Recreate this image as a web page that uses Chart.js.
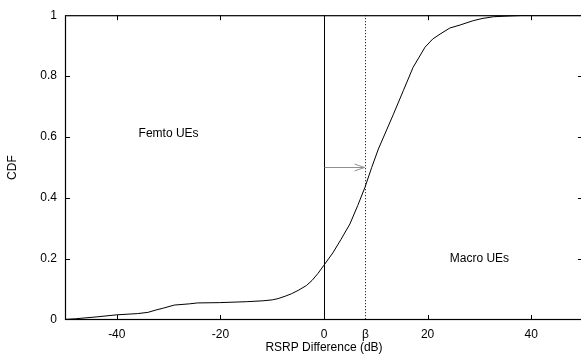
<!DOCTYPE html>
<html><head><meta charset="utf-8">
<script src="https://cdn.jsdelivr.net/npm/chart.js@4/dist/chart.umd.min.js"></script>
<style>
html,body{margin:0;padding:0;background:#fff;overflow:hidden;}
#wrap{width:581px;height:358px;overflow:hidden;position:relative;}
canvas{display:block;}
</style></head>
<body><div id="wrap"><canvas id="c" width="583" height="358"></canvas></div>
<script>
// RSRP difference (dB) and CDF values
const rsrpDiff = [-50, -48, -44, -40, -36, -34, -32.4, -31, -28.9, -26, -24.4, -20.2, -15, -11.8, -10, -8.9, -7.5, -6.3, -5, -3.4, -2.3, -1.2, 0, 1.7, 3.3, 5, 6.5, 7.9, 9.2, 10.5, 12, 13.4, 15.3, 17.2, 19.5, 21, 22.4, 24.3, 26.3, 28.8, 30.5, 32.7, 36.5, 40, 50];
const cdfValues = [0.002, 0.004, 0.010, 0.017, 0.021, 0.025, 0.033, 0.039, 0.049, 0.053, 0.056, 0.057, 0.060, 0.063, 0.066, 0.070, 0.078, 0.086, 0.097, 0.113, 0.130, 0.152, 0.180, 0.220, 0.265, 0.315, 0.375, 0.435, 0.5, 0.561, 0.620, 0.675, 0.752, 0.829, 0.895, 0.922, 0.938, 0.958, 0.968, 0.982, 0.989, 0.995, 0.998, 1.0, 1.0];
const xTickValues = [-40, -20, 0, 8, 20, 40];
const xTickLabels = ['-40', '-20', '0', 'β', '20', '40'];
const yTickValues = [0, 0.2, 0.4, 0.6, 0.8, 1];
const betaValue = 8;
const arrowLevel = 0.5;
const annotations = [
  {text: 'Femto UEs', x: -30, y: 0.61},
  {text: 'Macro UEs', x: 30, y: 0.2}
];

const FONT = '"Liberation Sans", Arial, sans-serif';

const overlay = {
  id: 'overlay',
  afterDatasetsDraw(chart) {
    const {ctx, chartArea: a, scales: {x, y}} = chart;
    ctx.save();
    // inward ticks
    ctx.strokeStyle = '#000'; ctx.lineWidth = 1; ctx.setLineDash([]);
    const tl = 5;
    xTickValues.forEach(v => {
      if (v === 0 || v === betaValue) return;
      const px = Math.round(x.getPixelForValue(v)) + 0.5;
      ctx.beginPath();
      ctx.moveTo(px, a.bottom); ctx.lineTo(px, a.bottom - tl);
      ctx.moveTo(px, a.top); ctx.lineTo(px, a.top + tl);
      ctx.stroke();
    });
    yTickValues.forEach(v => {
      if (v === 0 || v === 1) return;
      const py = Math.round(y.getPixelForValue(v)) + 0.5;
      ctx.beginPath();
      ctx.moveTo(a.left, py); ctx.lineTo(a.left + tl, py);
      ctx.moveTo(a.right, py); ctx.lineTo(a.right - tl, py);
      ctx.stroke();
    });
    // vertical line at 0
    const x0 = Math.round(x.getPixelForValue(0)) + 0.5;
    ctx.beginPath(); ctx.moveTo(x0, a.top); ctx.lineTo(x0, a.bottom); ctx.stroke();
    // dotted line at beta
    const xb = Math.round(x.getPixelForValue(betaValue)) + 0.5;
    ctx.setLineDash([1, 2]);
    ctx.beginPath(); ctx.moveTo(xb, a.top); ctx.lineTo(xb, a.bottom); ctx.stroke();
    ctx.setLineDash([]);
    // arrow
    const ya = Math.round(y.getPixelForValue(arrowLevel)) - 0.5;
    ctx.strokeStyle = '#909090'; ctx.lineWidth = 1;
    ctx.beginPath(); ctx.moveTo(x0, ya); ctx.lineTo(xb - 1, ya); ctx.stroke();
    ctx.beginPath();
    ctx.moveTo(xb - 11, ya - 3.5); ctx.lineTo(xb - 1, ya); ctx.lineTo(xb - 11, ya + 3.5);
    ctx.stroke();
    // frame
    ctx.strokeStyle = '#000'; ctx.lineWidth = 1.2;
    ctx.strokeRect(a.left + 0.5, a.top + 0.5, a.right - a.left - 1, a.bottom - a.top - 1);
    // annotations
    ctx.fillStyle = '#000';
    ctx.font = '12px ' + FONT;
    ctx.textAlign = 'center'; ctx.textBaseline = 'middle';
    annotations.forEach(t => ctx.fillText(t.text, x.getPixelForValue(t.x), y.getPixelForValue(t.y)));
    ctx.restore();
  }
};

new Chart(document.getElementById('c'), {
  type: 'line',
  data: {
    datasets: [{
      data: rsrpDiff.map((v, i) => ({x: v, y: cdfValues[i]})),
      borderColor: '#000',
      borderWidth: 1,
      pointRadius: 0,
      tension: 0,
      fill: false
    }]
  },
  options: {
    responsive: false,
    animation: false,
    events: [],
    layout: {padding: {left: 0, top: 14, right: 0, bottom: 0}},
    plugins: {legend: {display: false}, tooltip: {enabled: false}},
    scales: {
      x: {
        type: 'linear', min: -50, max: 50,
        afterBuildTicks: s => { s.ticks = xTickValues.map(v => ({value: v})); },
        afterFit: s => { s.height = 38; },
        grid: {display: false, drawTicks: false},
        border: {display: false},
        ticks: {
          padding: 7, color: '#000', font: {family: FONT, size: 12},
          maxRotation: 0, autoSkip: false,
          callback: v => xTickLabels[xTickValues.indexOf(v)]
        },
        title: {display: true, text: 'RSRP Difference (dB)', color: '#000', font: {family: FONT, size: 12}, padding: {top: 0, bottom: 3}}
      },
      y: {
        type: 'linear', min: 0, max: 1,
        afterBuildTicks: s => { s.ticks = yTickValues.map(v => ({value: v})); },
        afterFit: s => { s.width = 65; },
        grid: {display: false, drawTicks: false},
        border: {display: false},
        ticks: {
          padding: 8, color: '#000', font: {family: FONT, size: 12},
          callback: v => String(Math.round(v * 10) / 10)
        },
        title: {display: true, text: 'CDF', color: '#000', font: {family: FONT, size: 12}, padding: {top: 5, bottom: 0}}
      }
    }
  },
  plugins: [overlay]
});
</script></body></html>
